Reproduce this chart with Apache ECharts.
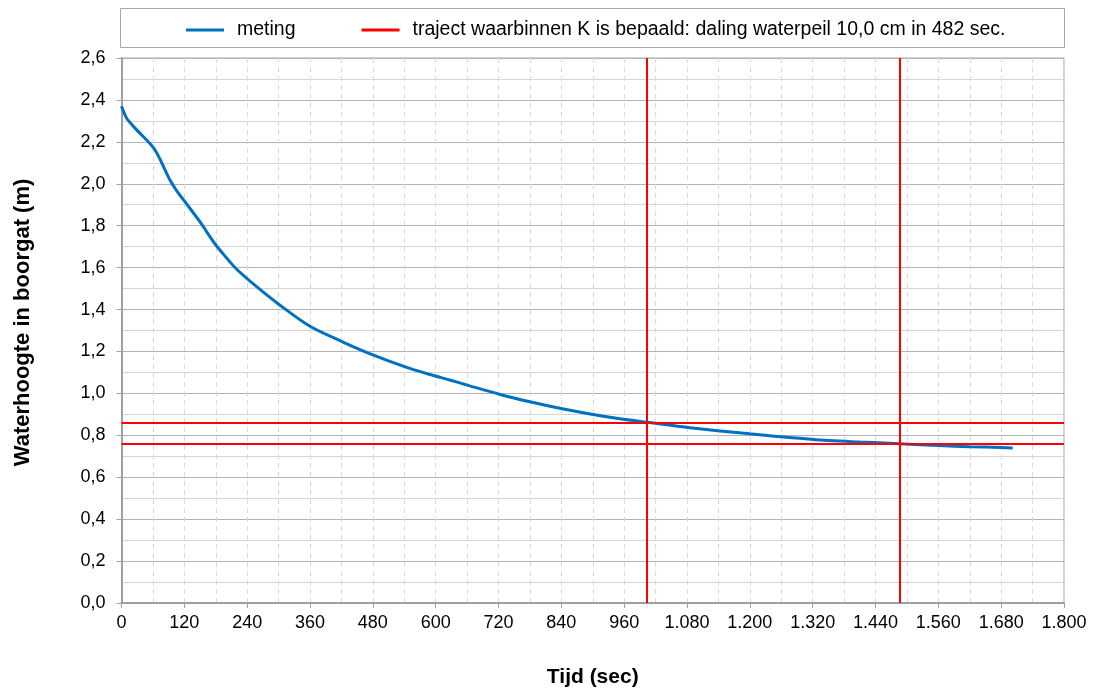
<!DOCTYPE html>
<html>
<head>
<meta charset="utf-8">
<script src="https://cdn.jsdelivr.net/npm/echarts@6/dist/echarts.min.js"></script>
<style>html,body{margin:0;padding:0;background:#fff}#c{width:1097px;height:696px}</style>
</head>
<body>
<div id="c"></div>
<script>
// time (sec) and water height (m) readings
const times   = [0, 10, 20, 29, 38, 48, 56, 64, 73, 82, 92, 105, 120, 150, 178, 200, 220, 258, 302, 360, 423, 474, 538, 589, 627, 665, 723, 780, 837, 895, 952, 1004, 1086, 1200, 1321, 1410, 1486, 1561, 1620, 1680, 1702];
const heights = [2.370, 2.312, 2.282, 2.257, 2.234, 2.209, 2.187, 2.161, 2.120, 2.072, 2.020, 1.968, 1.918, 1.818, 1.715, 1.648, 1.592, 1.509, 1.422, 1.320, 1.245, 1.190, 1.130, 1.090, 1.064, 1.036, 0.995, 0.960, 0.929, 0.902, 0.879, 0.862, 0.836, 0.807, 0.780, 0.768, 0.760, 0.751, 0.746, 0.742, 0.740];
const kTimes   = [1004, 1486];
const kLevels  = [0.862, 0.762];
const seriesNames = ['meting', 'traject waarbinnen K is bepaald: daling waterpeil 10,0 cm in 482 sec.'];

const chart = echarts.init(document.getElementById('c'));
const font = 'Arial, "Liberation Sans", sans-serif';
const meting = times.map((t, i) => [t, heights[i]]);
const marks = kTimes.map(t => ({xAxis: t})).concat(kLevels.map(v => ({yAxis: v})));

chart.setOption({
  animation: false,
  textStyle: {fontFamily: font},
  graphic: [{
    type: 'rect', left: 120, top: 8, shape: {width: 944, height: 39},
    style: {fill: '#fff', stroke: '#a6a6a6', lineWidth: 1}
  }],
  legend: {
    left: 186, top: 20, padding: 0, itemWidth: 38, itemHeight: 3, itemGap: 66, icon: 'rect',
    textStyle: {fontSize: 19.5, color: '#000', fontFamily: font, padding: [0, 0, 0, 8]},
    data: seriesNames
  },
  grid: {left: 121.5, right: 33, top: 58, bottom: 93, show: true, borderColor: '#a6a6a6', borderWidth: 1},
  xAxis: {
    type: 'value', min: 0, max: 1800, interval: 120,
    name: 'Tijd (sec)', nameLocation: 'middle', nameGap: 64,
    nameTextStyle: {fontSize: 21, fontWeight: 'bold', color: '#000'},
    axisLine: {show: true, lineStyle: {color: '#a0a0a0', width: 2}},
    axisTick: {show: true, length: 5, lineStyle: {color: '#a0a0a0'}},
    minorTick: {show: false, splitNumber: 2},
    axisLabel: {fontSize: 18, color: '#000', margin: 11,
      formatter: v => String(v).replace(/\B(?=(\d{3})+(?!\d))/g, '.')},
    splitLine: {show: true, lineStyle: {color: '#d9d9d9', type: [5, 4]}},
    minorSplitLine: {show: true, lineStyle: {color: '#d9d9d9', type: [5, 4]}}
  },
  yAxis: {
    type: 'value', min: 0, max: 2.6, interval: 0.2,
    name: 'Waterhoogte in boorgat (m)', nameLocation: 'middle', nameGap: 88,
    nameTextStyle: {fontSize: 22, fontWeight: 'bold', color: '#000', padding: [0, 0, 0, 16]},
    axisLine: {show: true, lineStyle: {color: '#a0a0a0', width: 2}},
    axisTick: {show: true, length: 5, lineStyle: {color: '#a0a0a0'}},
    minorTick: {show: false, splitNumber: 2},
    axisLabel: {fontSize: 18, color: '#000', margin: 16,
      formatter: v => v.toFixed(1).replace('.', ',')},
    splitLine: {show: true, lineStyle: {color: '#b4b4b4', width: 1}},
    minorSplitLine: {show: true, lineStyle: {color: '#d4d4d4', width: 1}}
  },
  series: [
    {
      name: seriesNames[0], type: 'line', data: meting, showSymbol: false,
      smooth: 0.3,
      lineStyle: {color: '#0070C0', width: 3}, itemStyle: {color: '#0070C0'}, z: 3
    },
    {
      name: seriesNames[1], type: 'line', data: [], itemStyle: {color: '#FF0000'},
      lineStyle: {color: '#FF0000', width: 2},
      markLine: {silent: true, symbol: 'none', label: {show: false}, animation: false,
        lineStyle: {color: '#FF0000', width: 2, type: 'solid'}, data: marks},
      z: 4
    }
  ]
});
</script>
</body>
</html>
